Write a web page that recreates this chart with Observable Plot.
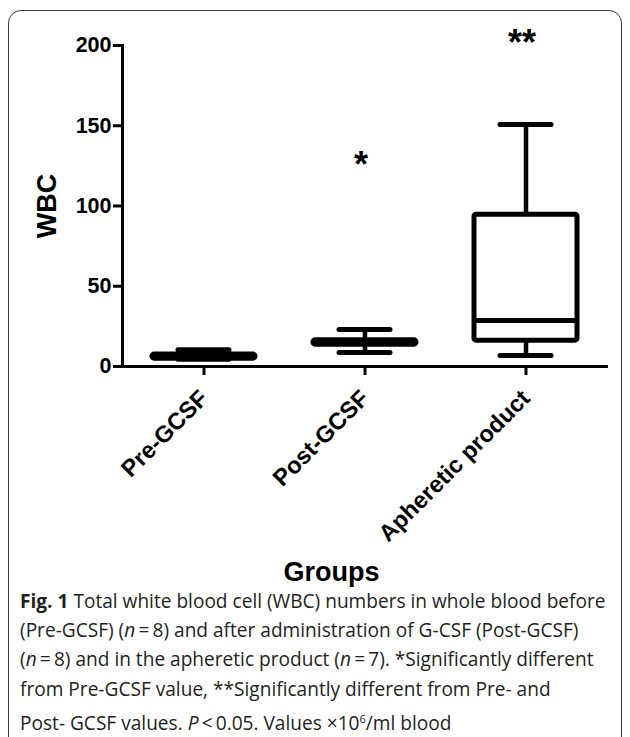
<!DOCTYPE html>
<html>
<head>
<meta charset="utf-8">
<script src="https://cdn.jsdelivr.net/npm/d3@7"></script>
<script src="https://cdn.jsdelivr.net/npm/@observablehq/plot@0.6"></script>
<style>
  html, body { margin: 0; padding: 0; background: #fff; }
  #wrap { position: relative; width: 630px; height: 737px; overflow: hidden; }
  #frame { position: absolute; left: 8px; top: 10px; width: 614px; height: 760px;
           border: 1.5px solid #3a3a3a; border-radius: 13px; box-sizing: border-box; }
  #chart { position: absolute; left: 0; top: 0; }
  #caption { position: absolute; left: 20px; top: 587px; width: 605px; white-space: nowrap;
             font-family: "Open Sans", sans-serif; font-size: 19.1px; line-height: 29.2px;
             color: #231f20; }
  #caption b { font-weight: 700; }
</style>
</head>
<body>
<div id="wrap">
  <div id="frame"></div>
  <div id="chart"></div>
  <div id="caption"><b>Fig. 1</b> Total white blood cell (WBC) numbers in whole blood before<br>(Pre-GCSF) (<i>n</i>&#8201;=&#8201;8) and after administration of G-CSF (Post-GCSF)<br>(<i>n</i>&#8201;=&#8201;8) and in the apheretic product (<i>n</i>&#8201;=&#8201;7). *Significantly different<br>from Pre-GCSF value, **Significantly different from Pre- and<br>Post- GCSF values. <i>P</i>&#8201;&lt;&#8201;0.05. Values &times;10<sup style="font-size:11px">6</sup>/ml blood</div>
</div>
<script>
const groups = ["Pre-GCSF", "Post-GCSF", "Apheretic product"];
const whiskerLow  = [4.5, 8.7, 6.9];
const q1          = [4.9, 13.6, 16.1];
const median      = [6.0, 15.0, 28.7];
const q3          = [7.4, 16.3, 94.6];
const whiskerHigh = [10.5, 23.0, 150.8];
const yTicks = [0, 50, 100, 150, 200];
const sigGroups = ["Post-GCSF", "Apheretic product"];
const sigLabels = ["*", "**"];
const sigValues = [131, 207];

const stats = groups.map((g, i) => ({
  group: g, lo: whiskerLow[i], q1: q1[i], med: median[i], q3: q3[i], hi: whiskerHigh[i]
}));
const sig = sigGroups.map((g, i) => ({group: g, label: sigLabels[i], value: sigValues[i]}));

const font = "'Liberation Sans', Arial, Helvetica, sans-serif";
const chart = Plot.plot({
  width: 630,
  height: 590,
  marginLeft: 122,
  marginRight: 24,
  marginTop: 45,
  marginBottom: 224,
  style: {fontFamily: font, color: "#000", background: "transparent", overflow: "visible"},
  x: {domain: groups, padding: 0, label: null},
  y: {domain: [0, 200], label: null},
  marks: [
    Plot.frame({anchor: "left", stroke: "#000", strokeWidth: 3}),
    Plot.frame({anchor: "bottom", stroke: "#000", strokeWidth: 2.8}),
    Plot.axisY({ticks: yTicks, tickSize: 9, tickPadding: 2, strokeWidth: 3, fontSize: 21.5, fontWeight: "bold", label: null}),
    Plot.axisX({tickSize: 9, strokeWidth: 3, text: null, label: null}),
    Plot.axisX({tickSize: 0, tickRotate: -45, tickPadding: 21, dx: 0, dy: 7, fontSize: 23.5, fontWeight: "bold", label: null}),
    // whiskers
    Plot.ruleX(stats, {x: "group", y1: "lo", y2: "q1", stroke: "#000", strokeWidth: 4.5}),
    Plot.ruleX(stats, {x: "group", y1: "q3", y2: "hi", stroke: "#000", strokeWidth: 4.5}),
    // caps
    Plot.tickY(stats, {x: "group", y: "lo", stroke: "#000", strokeWidth: 5, strokeLinecap: "round", insetLeft: 55, insetRight: 55}),
    Plot.tickY(stats, {x: "group", y: "hi", stroke: "#000", strokeWidth: 5, strokeLinecap: "round", insetLeft: 55, insetRight: 55}),
    // boxes
    Plot.barY(stats, {x: "group", y1: "q1", y2: "q3", fill: "#fff", stroke: "#000", strokeWidth: 5, insetLeft: 29, insetRight: 29, rx: 2}),
    Plot.tickY(stats, {x: "group", y: "med", stroke: "#000", strokeWidth: 5, insetLeft: 29, insetRight: 29}),
    // significance marks
    Plot.text(sig, {x: "group", y: "value", text: "label", fontSize: 36, fontWeight: "bold", lineAnchor: "middle", dx: -4, dy: 9}),
    // axis titles
    Plot.text(["WBC"], {frameAnchor: "left", rotate: -90, dx: -75, fontSize: 27, fontWeight: "bold", textAnchor: "middle", lineAnchor: "middle"}),
    Plot.text(["Groups"], {frameAnchor: "bottom", dx: -33, dy: 206, fontSize: 27, fontWeight: "bold", textAnchor: "middle", lineAnchor: "middle"})
  ]
});
document.getElementById("chart").appendChild(chart);
</script>
</body>
</html>
